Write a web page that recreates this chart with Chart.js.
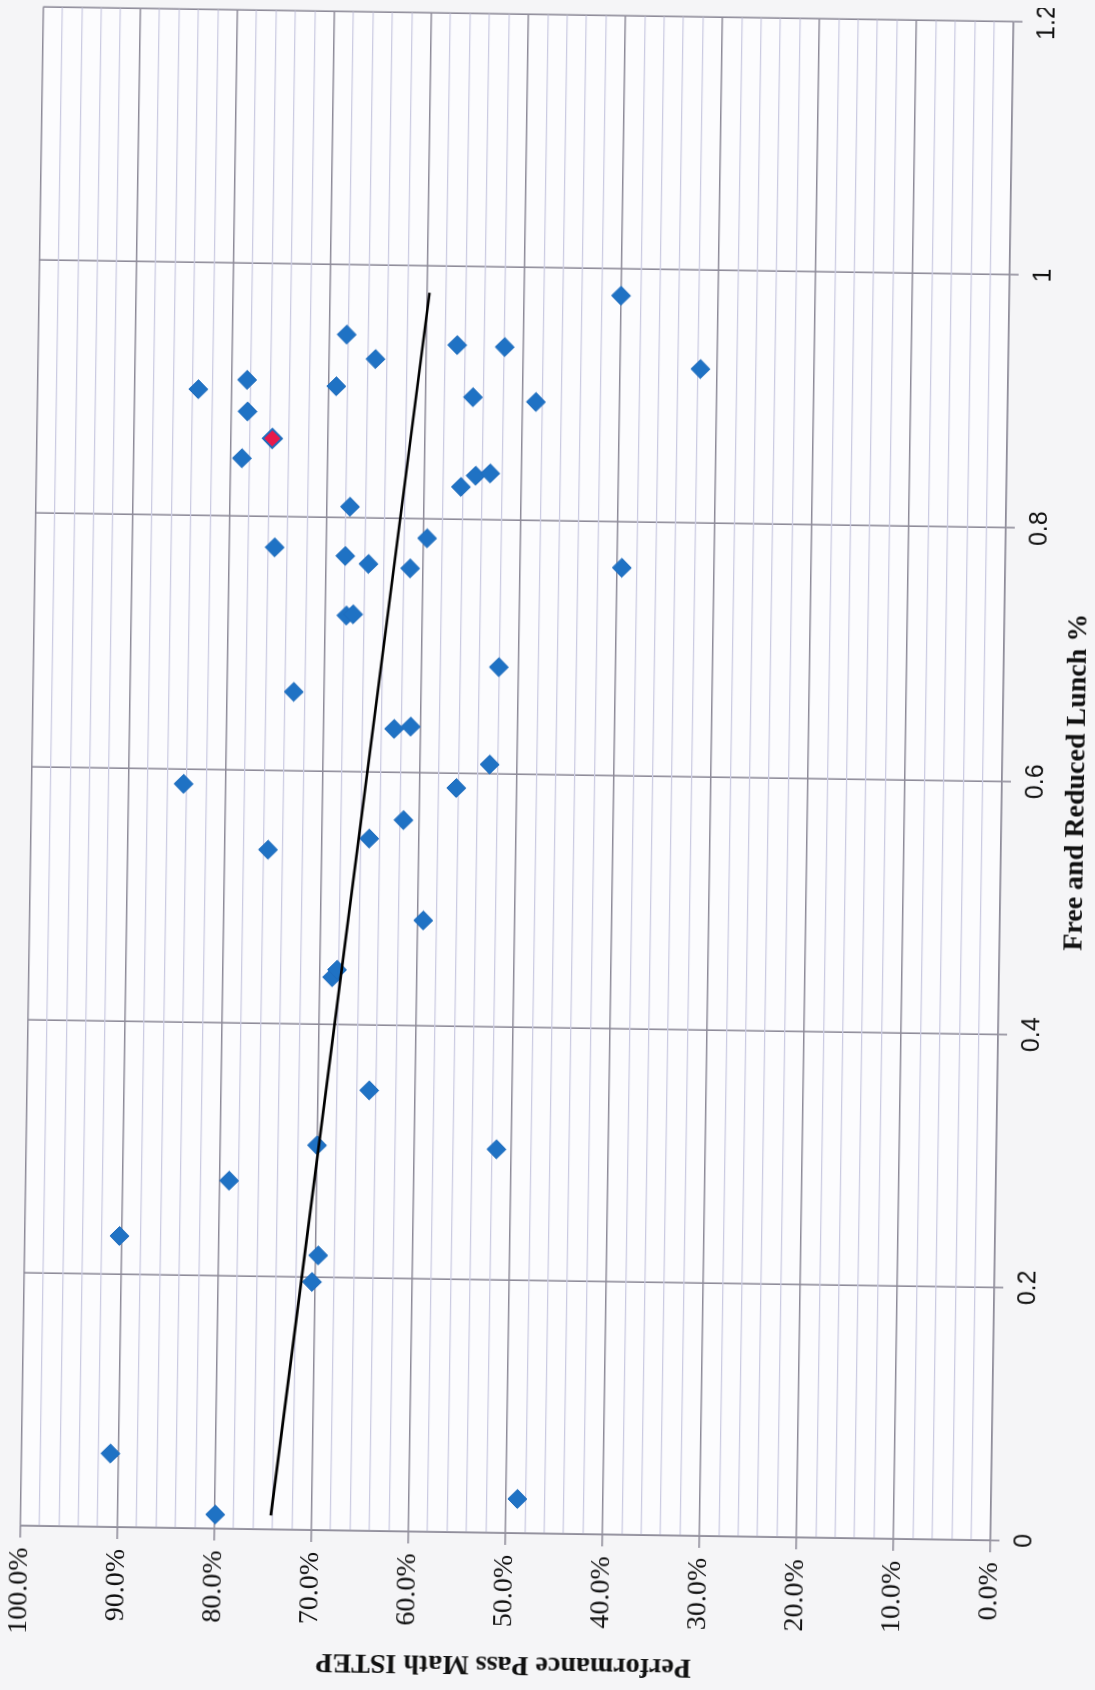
<!DOCTYPE html>
<html>
<head>
<meta charset="utf-8">
<script src="https://cdn.jsdelivr.net/npm/chart.js@4.4.1/dist/chart.umd.min.js"></script>
<style>
  html, body { margin: 0; padding: 0; width: 1095px; height: 1690px; overflow: hidden; background: #f5f5f7; }
  /* The chart is laid out landscape and turned onto the portrait page. */
  #frame {
    position: absolute; left: -399px; top: 257px;
    width: 1690px; height: 1095px;
    transform-origin: 916px 517px;
    transform: rotate(-89.13deg);
  }
  canvas { display: block; }
</style>
</head>
<body>
<div id="frame"><canvas id="chart" width="1690" height="1095"></canvas></div>
<script>
// Share of students on free or reduced lunch, one entry per school
const lunchShare = [
  0.058, 0.011, 0.027, 0.230, 0.275, 0.196, 0.217, 0.304, 0.303, 0.348,
  0.437, 0.443, 0.483, 0.537, 0.547, 0.562, 0.588, 0.588, 0.607, 0.634,
  0.636, 0.662, 0.684, 0.723, 0.724, 0.776, 0.770, 0.764, 0.761, 0.785,
  0.764, 0.809, 0.846, 0.862, 0.826, 0.835, 0.837, 0.883, 0.900, 0.908,
  0.904, 0.897, 0.894, 0.945, 0.926, 0.938, 0.937, 0.922, 0.979
];
// Percent of students passing ISTEP math, same school order
const mathPass = [
  90.8, 79.9, 48.8, 90.2, 79.0, 70.3, 69.7, 70.0, 51.5, 64.7,
  68.7, 68.2, 59.4, 75.5, 65.1, 61.6, 84.3, 56.2, 52.8, 62.7,
  61.0, 73.1, 52.0, 67.8, 67.1, 75.3, 68.0, 65.6, 61.3, 59.6,
  39.5, 67.6, 78.8, 75.7, 56.2, 54.7, 53.2, 78.3, 83.4, 78.4,
  69.2, 55.1, 48.6, 68.2, 65.2, 56.8, 51.9, 31.7, 40.0
];
// The one school marked in red
const highlightIndex = 33;

const lunchTickLabels = ['0', '0.2', '0.4', '0.6', '0.8', '1', '1.2'];
const passTickLabels = ['0.0%', '10.0%', '20.0%', '30.0%', '40.0%', '50.0%',
                        '60.0%', '70.0%', '80.0%', '90.0%', '100.0%'];

// Least-squares trend line across the observed lunch range
function trendLine(xs, ys) {
  const n = xs.length;
  const mx = xs.reduce((a, b) => a + b, 0) / n;
  const my = ys.reduce((a, b) => a + b, 0) / n;
  let sxy = 0, sxx = 0;
  for (let i = 0; i < n; i++) {
    sxy += (xs[i] - mx) * (ys[i] - my);
    sxx += (xs[i] - mx) * (xs[i] - mx);
  }
  const slope = sxy / sxx;
  const icpt = my - slope * mx;
  const x0 = Math.min(...xs), x1 = Math.max(...xs);
  return [{ x: x0, y: icpt + slope * x0 }, { x: x1, y: icpt + slope * x1 }];
}

const MAJOR = '#8e8b99';
const MINOR = '#cbcbe2';
const isMajor = v => Math.round(v) % 10 === 0;

const plotBackground = {
  id: 'plotBackground',
  beforeDraw(chart) {
    const { ctx, chartArea: a } = chart;
    ctx.save();
    ctx.fillStyle = '#fcfcfe';
    ctx.fillRect(a.left, a.top, a.width, a.height);
    ctx.restore();
  }
};

new Chart(document.getElementById('chart'), {
  type: 'scatter',
  data: {
    datasets: [
      {
        label: 'Linear trend',
        data: trendLine(lunchShare, mathPass),
        showLine: true,
        borderColor: '#000000',
        borderWidth: 2.6,
        pointRadius: 0,
        order: 0
      },
      {
        label: 'Schools',
        data: lunchShare.map((x, i) => ({ x: x, y: mathPass[i] })),
        pointStyle: 'rectRot',
        pointRadius: 9.5,
        pointBackgroundColor: c => c.dataIndex === highlightIndex ? '#e8194b' : '#1f72c4',
        pointBorderColor: '#1f6cbd',
        pointBorderWidth: c => c.dataIndex === highlightIndex ? 2 : 1,
        order: 1
      }
    ]
  },
  options: {
    responsive: false,
    animation: false,
    devicePixelRatio: 1,
    layout: { padding: { top: 31.5, right: 14.5, left: 0, bottom: 0 } },
    plugins: { legend: { display: false }, tooltip: { enabled: false } },
    scales: {
      x: {
        type: 'linear',
        position: 'bottom',
        min: 0,
        max: 1.2,
        afterFit(scale) {
          scale.height = 93;
          scale.paddingLeft = 0;
          scale.paddingRight = 0;
        },
        ticks: {
          stepSize: 0.2,
          autoSkip: false,
          maxRotation: 0,
          padding: 10,
          color: '#111111',
          font: { family: "'Liberation Sans Narrow', 'Arial Narrow', 'Liberation Sans', Arial, sans-serif", size: 25 },
          callback: v => lunchTickLabels[Math.round(v / 0.2)]
        },
        grid: { color: MAJOR, lineWidth: 1.6, tickLength: 9, tickColor: MAJOR },
        border: { color: MAJOR, width: 1.6 },
        title: {
          display: true,
          text: 'Free and Reduced Lunch %',
          color: '#111111',
          font: { family: "'Liberation Serif', 'DejaVu Serif', serif", size: 28, weight: 'bold' },
          padding: { top: 0, bottom: 1 }
        }
      },
      y: {
        type: 'linear',
        min: 0,
        max: 100,
        afterFit(scale) {
          scale.width = 157;
          scale.paddingTop = 0;
          scale.paddingBottom = 0;
        },
        ticks: {
          stepSize: 2,
          autoSkip: false,
          padding: 10,
          color: '#111111',
          font: { family: "'Liberation Serif', 'DejaVu Serif', serif", size: 28 },
          callback: v => isMajor(v) ? passTickLabels[Math.round(v) / 10] : ''
        },
        grid: {
          color: c => isMajor(c.tick.value) ? MAJOR : MINOR,
          lineWidth: c => isMajor(c.tick.value) ? 1.6 : 1.3,
          tickLength: 12,
          tickColor: c => isMajor(c.tick.value) ? MAJOR : 'rgba(0,0,0,0)'
        },
        border: { color: MAJOR, width: 1.6 },
        title: {
          display: true,
          text: 'Performance Pass Math ISTEP',
          color: '#111111',
          font: { family: "'Liberation Serif', 'DejaVu Serif', serif", size: 28, weight: 'bold' },
          padding: { top: 9, bottom: 0 }
        }
      }
    }
  },
  plugins: [plotBackground]
});
</script>
</body>
</html>
